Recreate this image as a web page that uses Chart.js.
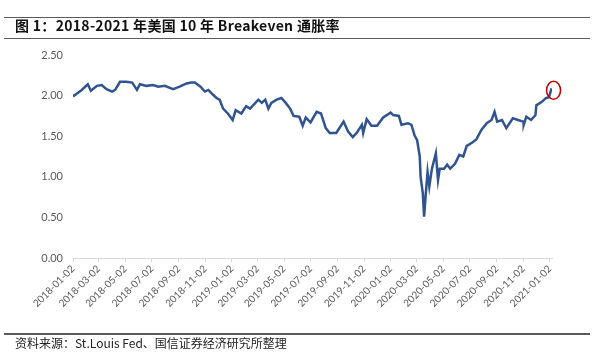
<!DOCTYPE html>
<html>
<head>
<meta charset="utf-8">
<script src="https://cdn.jsdelivr.net/npm/chart.js@4.4.1/dist/chart.umd.min.js"></script>
<style>
    html, body { margin: 0; padding: 0; background: #fff; }
    #wrap { position: relative; width: 600px; height: 354px; overflow: hidden; }
    #chart { position: absolute; left: 0; top: 0; }
    .rule { position: absolute; left: 4px; width: 586px; height: 0; border-top: 1.5px solid #5a5a5a; }
    #title { position: absolute; left: 15px; top: 15px; font: bold 14px "Noto Sans CJK SC", sans-serif; letter-spacing: 0.3px; color: #111; line-height: 20px; white-space: nowrap; }
    #source { position: absolute; left: 15px; top: 334px; font: 12px "Noto Sans CJK SC", sans-serif; color: #222; line-height: 18px; white-space: nowrap; }
</style>
</head>
<body>
<div id="wrap">
    <canvas id="chart" width="600" height="354"></canvas>
    <div class="rule" style="top:17px"></div>
    <div id="title">图 1：2018-2021 年美国 10 年 Breakeven 通胀率</div>
    <div class="rule" style="top:38px"></div>
    <div class="rule" style="top:333px; border-top-width:2px"></div>
    <div id="source">资料来源：St.Louis Fed、国信证券经济研究所整理</div>
</div>
<script>
// values
const dates = [
    '2018-01-02', '2018-01-12', '2018-01-22', '2018-02-05', '2018-02-12', '2018-02-26', '2018-03-09', '2018-03-20',
    '2018-04-02', '2018-04-09', '2018-04-20', '2018-05-04', '2018-05-18', '2018-05-29', '2018-06-05', '2018-06-20',
    '2018-07-05', '2018-07-17', '2018-08-01', '2018-08-20', '2018-09-04', '2018-09-20', '2018-10-01', '2018-10-09',
    '2018-10-22', '2018-11-01', '2018-11-09', '2018-11-20', '2018-11-28', '2018-12-05', '2018-12-13', '2018-12-24',
    '2019-01-04', '2019-01-11', '2019-01-24', '2019-02-04', '2019-02-13', '2019-03-04', '2019-03-12', '2019-03-20',
    '2019-03-27', '2019-04-03', '2019-04-15', '2019-04-26', '2019-05-06', '2019-05-16', '2019-05-24', '2019-06-06',
    '2019-06-14', '2019-06-21', '2019-07-02', '2019-07-16', '2019-07-26', '2019-08-06', '2019-08-15', '2019-08-30',
    '2019-09-16', '2019-09-26', '2019-10-07', '2019-10-16', '2019-10-28', '2019-10-31', '2019-11-08', '2019-11-19',
    '2019-12-02', '2019-12-16', '2020-01-02', '2020-01-08', '2020-01-21', '2020-01-27', '2020-02-11', '2020-02-19',
    '2020-02-26', '2020-03-03', '2020-03-09', '2020-03-11', '2020-03-16', '2020-03-19', '2020-03-23', '2020-03-27',
    '2020-03-31', '2020-04-06', '2020-04-15', '2020-04-20', '2020-04-24', '2020-05-04', '2020-05-11', '2020-05-18',
    '2020-05-29', '2020-06-08', '2020-06-17', '2020-06-25', '2020-07-07', '2020-07-17', '2020-07-29', '2020-08-10',
    '2020-08-21', '2020-08-28', '2020-09-03', '2020-09-14', '2020-09-24', '2020-10-09', '2020-10-21', '2020-11-02',
    '2020-11-03', '2020-11-09', '2020-11-20', '2020-11-30', '2020-12-02', '2020-12-14', '2020-12-24', '2020-12-31',
    '2021-01-06'
];
const breakeven = [
    1.99, 2.03, 2.07, 2.14, 2.06, 2.12, 2.13, 2.08,
    2.05, 2.07, 2.17, 2.17, 2.16, 2.07, 2.14, 2.12,
    2.13, 2.11, 2.12, 2.08, 2.11, 2.15, 2.16, 2.16,
    2.11, 2.05, 2.07, 2.01, 1.97, 1.95, 1.84, 1.78,
    1.70, 1.82, 1.78, 1.87, 1.84, 1.95, 1.91, 1.95,
    1.84, 1.91, 1.95, 1.97, 1.91, 1.84, 1.75, 1.74,
    1.63, 1.73, 1.67, 1.80, 1.78, 1.60, 1.54, 1.54,
    1.68, 1.56, 1.49, 1.54, 1.64, 1.54, 1.71, 1.63,
    1.63, 1.73, 1.79, 1.76, 1.75, 1.64, 1.66, 1.64,
    1.51, 1.45, 1.25, 1.00, 0.80, 0.51, 0.80, 1.06,
    0.88, 1.10, 1.29, 0.96, 1.10, 1.10, 1.15, 1.10,
    1.16, 1.27, 1.25, 1.38, 1.42, 1.46, 1.58, 1.66,
    1.70, 1.80, 1.68, 1.70, 1.60, 1.72, 1.70, 1.68,
    1.64, 1.74, 1.70, 1.76, 1.88, 1.92, 1.97, 1.98,
    2.09
];
const tickDates = [
    '2018-01-02', '2018-03-02', '2018-05-02', '2018-07-02', '2018-09-02', '2018-11-02', '2019-01-02',
    '2019-03-02', '2019-05-02', '2019-07-02', '2019-09-02', '2019-11-02', '2020-01-02', '2020-03-02',
    '2020-05-02', '2020-07-02', '2020-09-02', '2020-11-02', '2021-01-02'
];
const yTicks = [0, 0.5, 1, 1.5, 2, 2.5];

const DAY = 86400000;
const day0 = Date.parse(dates[0]);
const toDay = s => (Date.parse(s) - day0) / DAY;
const tickDays = tickDates.map(toDay);
const points = dates.map((d, i) => ({ x: toDay(d), y: breakeven[i] }));

const tickFont = { family: 'Lato, "Open Sans", sans-serif', size: 11 };

// red ring round the latest value
const ringPlugin = {
    id: 'ring',
    afterDatasetsDraw(chart) {
        const meta = chart.getDatasetMeta(0);
        const last = meta.data[meta.data.length - 1];
        const ctx = chart.ctx;
        ctx.save();
        ctx.strokeStyle = '#c00000';
        ctx.lineWidth = 1.5;
        ctx.beginPath();
        ctx.ellipse(last.x + 2, last.y + 2, 7, 9, 0, 0, Math.PI * 2);
        ctx.stroke();
        ctx.restore();
    }
};

new Chart(document.getElementById('chart'), {
    type: 'line',
    data: {
        datasets: [{
            data: points,
            borderColor: '#2f5491',
            borderWidth: 2.5,
            pointRadius: 0,
            tension: 0
        }]
    },
    options: {
        responsive: false,
        animation: false,
        parsing: false,
        layout: { padding: { top: 55, right: 48, bottom: 26, left: 0 } },
        plugins: { legend: { display: false }, tooltip: { enabled: false } },
        scales: {
            x: {
                type: 'linear',
                min: 0,
                max: toDay('2021-01-07'),
                afterBuildTicks: scale => { scale.ticks = tickDays.map(v => ({ value: v })); },
                afterFit: scale => { scale.height = 70; },
                ticks: {
                    autoSkip: false,
                    minRotation: 45,
                    maxRotation: 45,
                    padding: 1,
                    color: '#595959',
                    font: { family: 'Lato, "Open Sans", sans-serif', size: 10 },
                    callback: (v, i) => tickDates[i]
                },
                grid: { drawOnChartArea: false, tickLength: 4, color: '#d9d9d9' },
                border: { color: '#d9d9d9', width: 1 }
            },
            y: {
                min: 0,
                max: 2.5,
                afterBuildTicks: scale => { scale.ticks = yTicks.map(v => ({ value: v })); },
                afterFit: scale => { scale.width = 73; },
                ticks: {
                    padding: 10,
                    color: '#595959',
                    font: tickFont,
                    callback: v => v.toFixed(2)
                },
                grid: { display: false, drawTicks: false },
                border: { display: false }
            }
        }
    },
    plugins: [ringPlugin]
});
</script>
</body>
</html>
